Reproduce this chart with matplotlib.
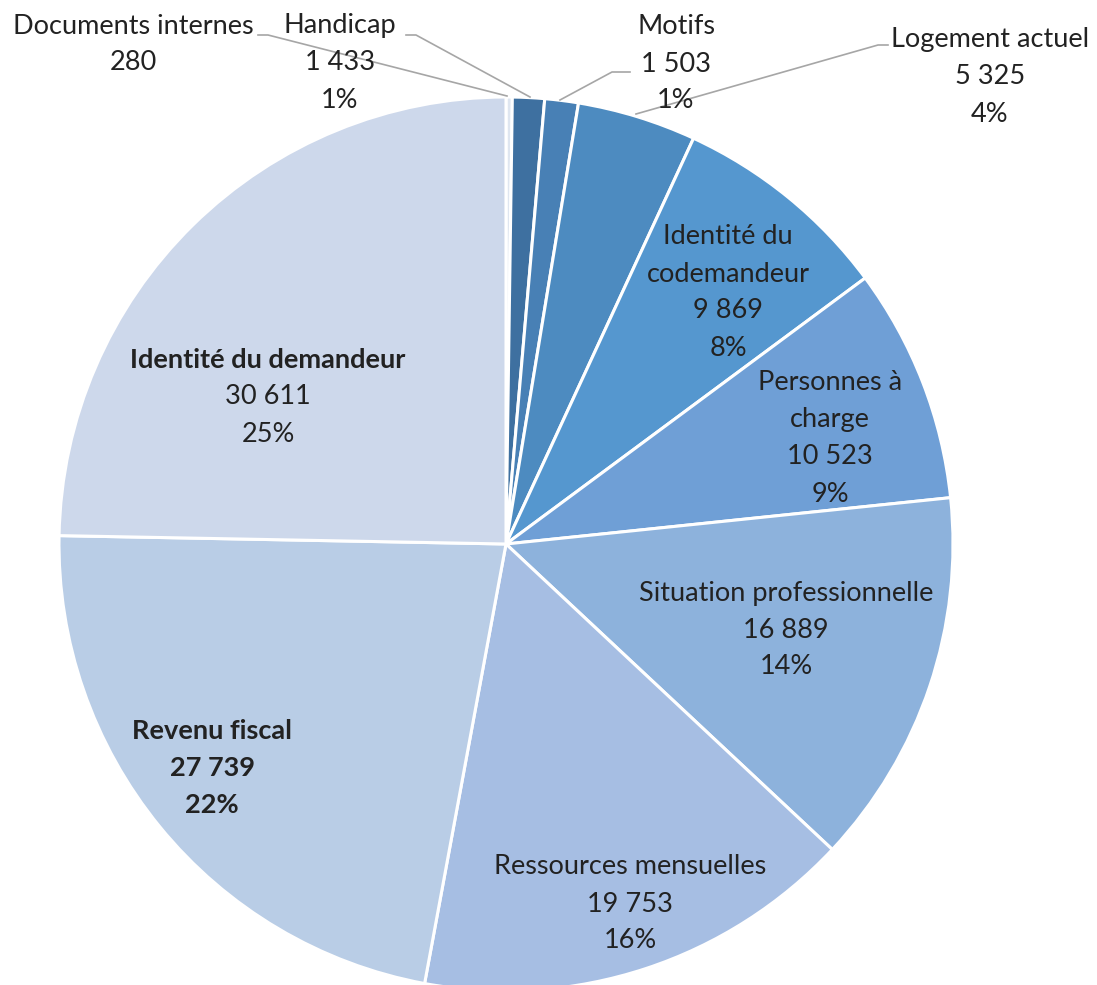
import matplotlib
matplotlib.use('Agg')
import matplotlib.pyplot as plt

# data, clockwise from 12 o'clock
categories = ['Documents internes', 'Handicap', 'Motifs', 'Logement actuel',
              'Identité du\ncodemandeur', 'Personnes à\ncharge',
              'Situation professionnelle', 'Ressources mensuelles',
              'Revenu fiscal', 'Identité du demandeur']
values = [280, 1433, 1503, 5325, 9869, 10523, 16889, 19753, 27739, 30611]
pct_labels = ['', '1%', '1%', '4%', '8%', '9%', '14%', '16%', '22%', '25%']
colors = ['#dfe6f0', '#3e70a0', '#4880b5', '#4d8bc0', '#5597cf', '#6f9fd6',
          '#8db2dc', '#a6bee3', '#b9cde6', '#cdd8eb']

W, H = 1097, 985
fig = plt.figure(figsize=(W / 100, H / 100), dpi=100)
ax = fig.add_axes([0, 0, 1, 1])

# pie drawn in pixel coords (y down); flip angles accordingly
cx, cy, r = 506, 544, 447
ax.pie(values, colors=colors, startangle=-90, counterclock=True,
       center=(cx, cy), radius=r, frame=True,
       wedgeprops=dict(edgecolor='white', linewidth=2.2))
ax.set_xlim(0, W)
ax.set_ylim(H, 0)
ax.axis('off')


def fmt(v):
    return '{:,}'.format(v).replace(',', ' ')


font = dict(family='Lato', fontsize=19.5, color='#222222')
step = 37

# (x, y of first line, bold flags for name / numbers)
label_pos = [
    (133, 26, False, False),
    (340, 26, False, False),
    (676, 27, False, False),
    (990, 40, False, False),
    (728, 237, False, False),
    (830, 383, False, False),
    (786, 593, False, False),
    (630, 867, False, False),
    (212, 731, True, True),
    (268, 360, True, False),
]

for cat, v, p, (x, y, bname, bnum) in zip(categories, values, pct_labels, label_pos):
    lines = [(ln, bname) for ln in cat.split('\n')]
    lines.append((fmt(v), bnum))
    if p:
        lines.append((p, bnum))
    for i, (ln, b) in enumerate(lines):
        ax.text(x, y + i * step, ln, ha='center', va='center',
                fontweight='bold' if b else 'normal', **font)

# leader lines
lc = dict(color='#a6a6a6', lw=1.2, zorder=1)
ax.plot([258, 268, 507], [35, 35, 96], **lc)
ax.plot([406, 416, 530], [35, 35, 97], **lc)
ax.plot([630, 612, 560], [72, 72, 100], **lc)
ax.plot([888, 878, 636], [45, 45, 114], **lc)

fig.savefig('out.png', dpi=100)
